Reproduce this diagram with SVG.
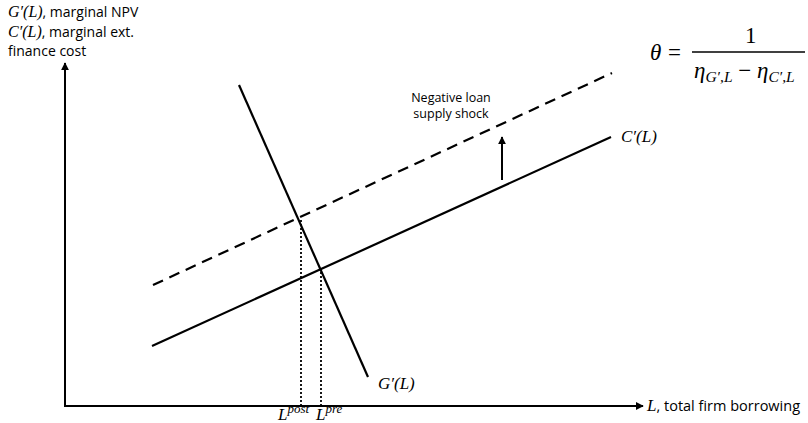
<svg xmlns="http://www.w3.org/2000/svg" width="808" height="423" viewBox="0 0 808 423">
<style>
.t{font-family:"Open Sans","Liberation Sans",Arial,sans-serif;font-size:14.5px;fill:#000}
.y{font-family:"Open Sans","Liberation Sans",Arial,sans-serif;font-size:14px;fill:#000}
.s{font-family:"Open Sans","Liberation Sans",Arial,sans-serif;font-size:12.5px;fill:#000}
.m{font-family:"Liberation Serif","DejaVu Serif",serif;font-style:italic;fill:#000}
.ln{stroke:#000;stroke-width:2.2;fill:none}
.ax{stroke:#000;stroke-width:2;fill:none}
.dot{stroke:#000;stroke-width:1.8;stroke-dasharray:2 2;fill:none}
</style>
<defs>
<marker id="ah" viewBox="0 0 10 10" refX="9" refY="5" markerWidth="4" markerHeight="4" orient="auto">
<path d="M0,0 L10,5 L0,10 z" fill="#000"/>
</marker>
</defs>
<rect width="808" height="423" fill="#fff"/>
<g id="yaxis-label">
<text class="y" x="8" y="17"><tspan class="m" font-size="16">G′(L)</tspan>, marginal NPV</text>
<text class="y" x="8" y="36.5"><tspan class="m" font-size="16">C′(L)</tspan>, marginal ext.</text>
<text class="y" x="8" y="56">finance cost</text>
</g>
<g id="formula">
<text class="m" x="650" y="60" font-size="23">θ</text>
<text x="668" y="60" font-family="Liberation Serif,serif" font-size="23">=</text>
<line x1="692" y1="52" x2="805" y2="52" stroke="#000" stroke-width="1.3"/>
<text x="745" y="43" font-family="Liberation Serif,serif" font-size="23">1</text>
<text class="m" x="694" y="78" font-size="23">η<tspan font-size="15.5" dy="4">G′,L</tspan><tspan dy="-4" font-style="normal"> − </tspan>η<tspan font-size="15.5" dy="4">C′,L</tspan></text>
</g>
<g id="connectors">
<polyline class="ax" points="65,64 65,406 643,406" marker-end="url(#ah)"/>
<line class="ax" x1="65" y1="406" x2="65" y2="63" marker-end="url(#ah)"/>
<line class="ln" x1="152" y1="346" x2="611" y2="137"/>
<line class="ln" x1="153" y1="285" x2="612" y2="73" stroke-dasharray="11 7"/>
<line class="ln" x1="239" y1="85" x2="368" y2="377"/>
<line class="dot" x1="301" y1="220" x2="301" y2="405"/>
<line class="dot" x1="321" y1="268" x2="321" y2="405"/>
<line class="ax" x1="502" y1="180" x2="502" y2="137" marker-end="url(#ah)"/>
</g>
<g id="shock-label">
<text class="s" x="451" y="102" text-anchor="middle">Negative loan</text>
<text class="s" x="451" y="118" text-anchor="middle">supply shock</text>
</g>
<g id="C-label"><text class="m" x="621" y="142" font-size="17">C′(L)</text></g>
<g id="G-label"><text class="m" x="378" y="389" font-size="17">G′(L)</text></g>
<g id="L-labels">
<text class="m" x="278" y="420" font-size="17">L<tspan font-size="13" dy="-7">post</tspan></text>
<text class="m" x="316" y="420" font-size="17">L<tspan font-size="13" dy="-7">pre</tspan></text>
</g>
<g id="xaxis-label"><text class="t" x="647" y="411"><tspan class="m" font-size="17">L</tspan>, total firm borrowing</text></g>
</svg>
